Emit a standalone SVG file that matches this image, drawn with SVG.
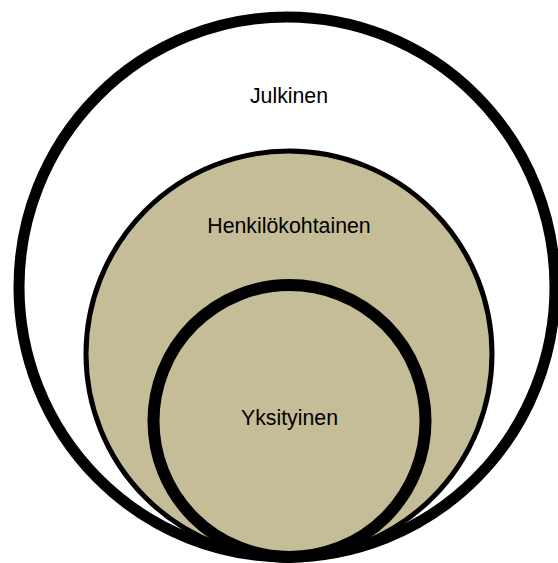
<svg xmlns="http://www.w3.org/2000/svg" width="558" height="563" viewBox="0 0 558 563">
<style>
.lbl{font-family:"Liberation Sans",Arial,sans-serif;font-size:21.3px;fill:#000;text-anchor:middle}
.ring{stroke:#000}
</style>
<rect width="558" height="563" fill="#fff"/>
<g id="julkinen">
<ellipse class="ring" cx="287" cy="287" rx="268" ry="270" fill="#fff" stroke-width="11"/>
<text class="lbl" x="289" y="102.5">Julkinen</text>
</g>
<g id="henkilokohtainen">
<circle class="ring" cx="289" cy="354" r="203" fill="#C4BD97" stroke-width="5"/>
<text class="lbl" x="289" y="232.5">Henkilökohtainen</text>
</g>
<g id="yksityinen">
<circle class="ring" cx="289.5" cy="421" r="136" fill="#C4BD97" stroke-width="12"/>
<text class="lbl" x="289.5" y="425">Yksityinen</text>
</g>
<g id="connectors"/>
</svg>
